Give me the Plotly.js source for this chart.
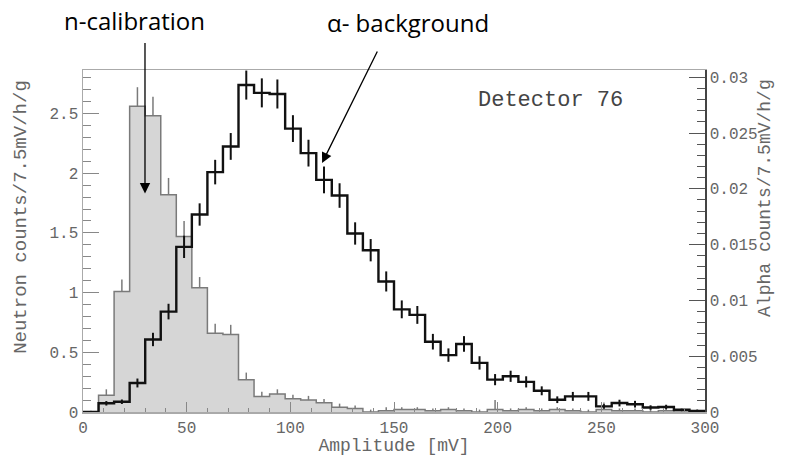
<!DOCTYPE html>
<html><head><meta charset="utf-8">
<script src="https://cdn.plot.ly/plotly-3.0.1.min.js"></script>
<style>body{margin:0;background:#fff}</style>
</head><body><div id="chart" style="width:785px;height:456px"></div>
<script>
// Bin edges (Amplitude, mV), 7.5 mV bins
const binEdges = [0,7.5,15,22.5,30,37.5,45,52.5,60,67.5,75,82.5,90,97.5,105,112.5,120,127.5,135,142.5,150,157.5,165,172.5,180,187.5,195,202.5,210,217.5,225,232.5,240,247.5,255,262.5,270,277.5,285,292.5,300];

// Neutron calibration (counts/7.5mV/h/g), left axis
const neutronCounts = [0.0,0.14,1.01,2.56,2.48,1.82,1.47,1.04,0.66,0.65,0.27,0.13,0.15,0.11,0.10,0.078,0.04,0.03,0.0,0.01,0.02,0.02,0.01,0.02,0.01,0.0,0.02,0.01,0.02,0.01,0.02,0.01,0.0,0.02,0.01,0.01,0.0,0.01,0.0,0.0];
const neutronErrUp = [0.0,0.05,0.10,0.16,0.16,0.14,0.13,0.09,0.08,0.08,0.06,0.04,0.04,0.035,0.035,0.03,0.03,0.025,0.02,0.03,0.02,0.02,0.02,0.02,0.02,0.02,0.08,0.02,0.02,0.02,0.02,0.02,0.02,0.06,0.02,0.02,0.02,0.02,0.02,0.02];

// Alpha background (counts/7.5mV/h/g), right axis
const alphaCounts = [0.0,0.00078,0.00092,0.0026,0.0065,0.0090,0.0148,0.0177,0.0215,0.0238,0.0293,0.0286,0.0285,0.0254,0.0232,0.0208,0.0194,0.0160,0.0145,0.0117,0.0092,0.0087,0.0063,0.0051,0.0061,0.0044,0.0029,0.0032,0.0027,0.0019,0.0011,0.0014,0.0014,0.0005,0.0008,0.0007,0.0004,0.00045,0.0002,0.0001];
const alphaErr = [0.0001,0.0002,0.0002,0.0004,0.0006,0.0007,0.001,0.001,0.0011,0.0012,0.0013,0.0013,0.0013,0.0012,0.0012,0.0012,0.0011,0.001,0.001,0.0009,0.0008,0.0008,0.0007,0.0006,0.0007,0.0006,0.0005,0.0005,0.0005,0.0004,0.0003,0.0004,0.0004,0.0002,0.0003,0.0003,0.0002,0.0002,0.0001,0.0001];

const leftTicks = [0,0.5,1,1.5,2,2.5];
const rightTicks = [0,0.005,0.01,0.015,0.02,0.025,0.03];
const xTicks = [0,50,100,150,200,250,300];

const centers = binEdges.slice(0,-1).map((e,i)=> (e+binEdges[i+1])/2);
const stepY = arr => arr.concat([arr[arr.length-1]]);

const mono = 'Liberation Mono, Courier New, monospace';
const traces = [
  {x: binEdges, y: stepY(neutronCounts), type:'scatter', mode:'lines', line:{shape:'hv', color:'#7a7a7a', width:1.5}, fill:'tozeroy', fillcolor:'#d6d6d6', hoverinfo:'skip', showlegend:false},
  {x: centers, y: neutronCounts, type:'scatter', mode:'markers', marker:{size:1, opacity:0}, error_y:{type:'data', symmetric:false, array:neutronErrUp, arrayminus:neutronCounts.map(()=>0), width:0, thickness:1.5, color:'#7a7a7a'}, showlegend:false},
  {x: binEdges, y: stepY(alphaCounts), type:'scatter', mode:'lines', line:{shape:'hv', color:'#111', width:2.4}, yaxis:'y2', showlegend:false},
  {x: centers, y: alphaCounts, type:'scatter', mode:'markers', marker:{size:1, opacity:0}, error_y:{type:'data', array:alphaErr, width:0, thickness:2, color:'#111'}, yaxis:'y2', showlegend:false}
];

const layout = {
  width:785, height:456,
  margin:{l:83, r:80, t:70, b:44},
  paper_bgcolor:'#fff', plot_bgcolor:'#fff',
  showlegend:false,
  xaxis:{range:[0,300], tickvals:xTicks, ticks:'inside', ticklen:10, tickcolor:'#888', tickwidth:1,
    minor:{dtick:10, ticks:'inside', ticklen:4, tickcolor:'#888'},
    showline:true, linecolor:'#aaa', linewidth:1.5, mirror:true, showgrid:false, zeroline:false,
    tickfont:{family:mono, size:16, color:'#666'},
    title:{text:'Amplitude [mV]', font:{family:mono, size:18, color:'#666'}, standoff:0}},
  yaxis:{range:[0,2.864], tickvals:leftTicks, ticks:'inside', ticklen:16, tickcolor:'#888',
    minor:{dtick:0.1, ticks:'inside', ticklen:8, tickcolor:'#888'},
    showline:true, linecolor:'#aaa', linewidth:1.5, mirror:true, showgrid:false, zeroline:false,
    tickfont:{family:mono, size:16, color:'#666'}},
  yaxis2:{range:[0,0.03065], overlaying:'y', side:'right', tickvals:rightTicks, ticks:'inside', ticklen:16, tickcolor:'#555',
    minor:{dtick:0.001, ticks:'inside', ticklen:8, tickcolor:'#555'},
    showline:true, linecolor:'#444', linewidth:1.5, showgrid:false, zeroline:false,
    tickfont:{family:mono, size:16, color:'#666'}},
  annotations:[
    {text:'Neutron counts/7.5mV/h/g', xref:'paper', yref:'paper', x:-0.1, y:0.57, textangle:-90, showarrow:false, font:{family:mono, size:19, color:'#666'}, xanchor:'center', yanchor:'middle'},
    {text:'Alpha counts/7.5mV/h/g', xref:'paper', yref:'paper', x:1.0965, y:0.626, textangle:-90, showarrow:false, font:{family:mono, size:18, color:'#666'}, xanchor:'center', yanchor:'middle'},
    {text:'Detector 76', xref:'paper', yref:'paper', x:0.752, y:0.912, showarrow:false, font:{family:mono, size:22, color:'#444'}, xanchor:'center', yanchor:'middle'},
    {text:'n-calibration', xref:'paper', yref:'paper', x:0.0836, y:1.146, showarrow:false, font:{family:'Open Sans, sans-serif', size:24, color:'#000'}, xanchor:'center', yanchor:'middle'},
    {text:'α- background', xref:'paper', yref:'paper', x:0.5225, y:1.140, showarrow:false, font:{family:'Open Sans, sans-serif', size:24, color:'#000'}, xanchor:'center', yanchor:'middle'},
    {text:'', x:29.9, y:1.83, xref:'x', yref:'y', showarrow:true, ax:0, ay:-152, arrowhead:2, arrowsize:1.6, arrowwidth:1.3, arrowcolor:'#000'},
    {text:'', x:115.3, y:2.085, xref:'x', yref:'y', showarrow:true, ax:56, ay:-113, arrowhead:2, arrowsize:1.6, arrowwidth:1.3, arrowcolor:'#000'}
  ]
};
Plotly.newPlot('chart', traces, layout, {displayModeBar:false, staticPlot:true});
</script></body></html>
